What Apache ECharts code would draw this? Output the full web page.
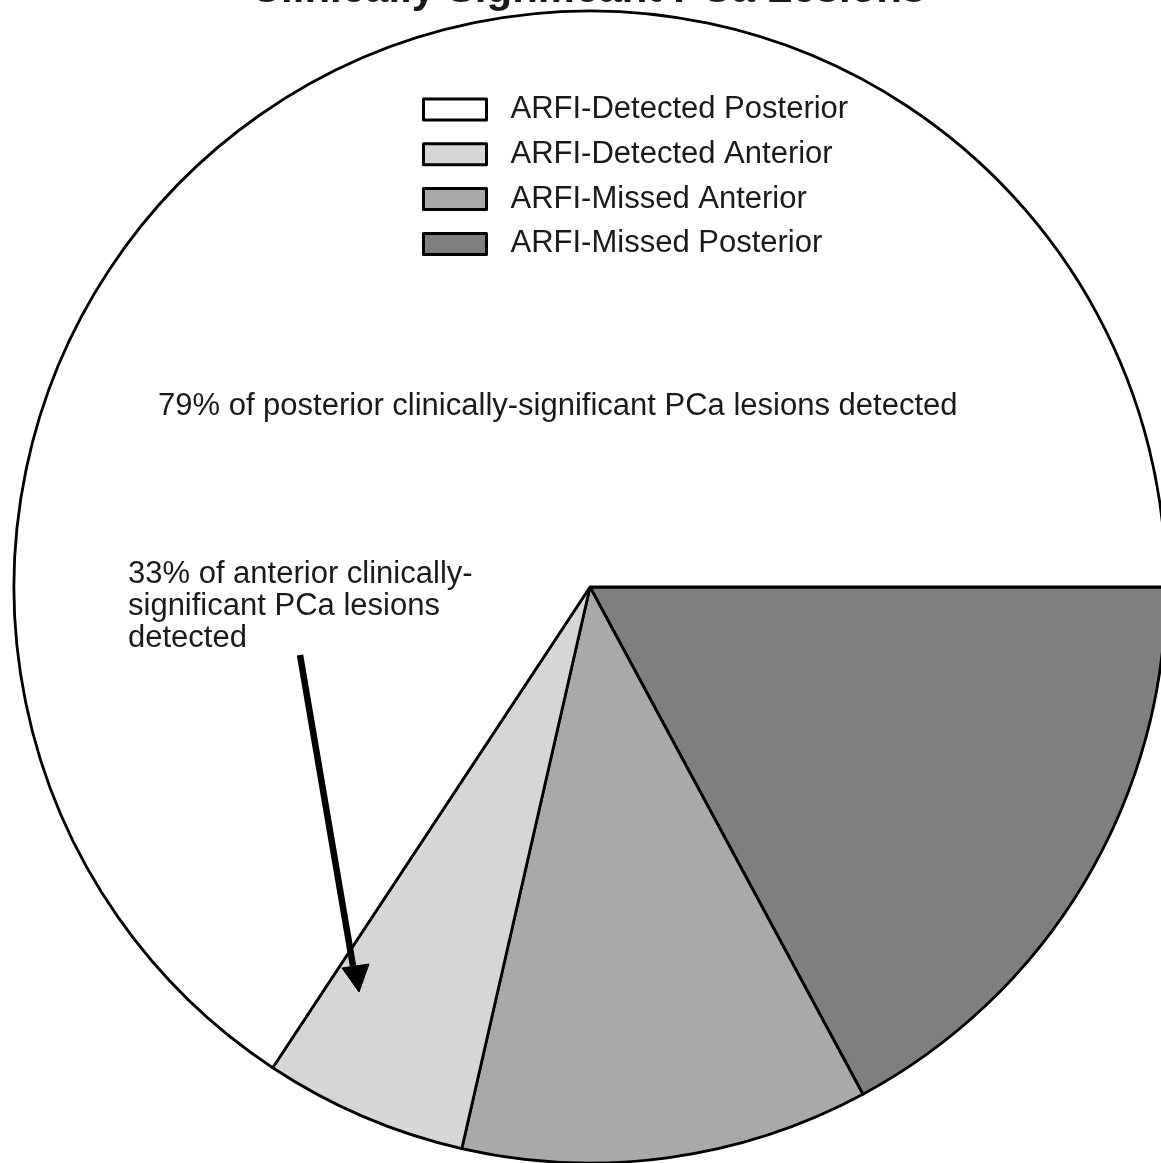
<!DOCTYPE html>
<html>
<head>
<meta charset="utf-8">
<style>
  html, body { margin: 0; padding: 0; background: #fff; }
  #chart { width: 1161px; height: 1163px; }
</style>
<script src="https://cdn.jsdelivr.net/npm/echarts@6/dist/echarts.min.js"></script>
</head>
<body>
<div id="chart"></div>
<script>
// Lesion counts, listed clockwise from 3 o'clock
const sliceNames = ['ARFI-Missed Posterior', 'ARFI-Missed Anterior', 'ARFI-Detected Anterior', 'ARFI-Detected Posterior'];
const sliceCounts = [6, 4, 2, 23];
const sliceColors = ['#7f7f7f', '#a9a9a9', '#d6d6d6', '#ffffff'];
const legendOrder = ['ARFI-Detected Posterior', 'ARFI-Detected Anterior', 'ARFI-Missed Anterior', 'ARFI-Missed Posterior'];

const titleText = 'Clinically Significant PCa Lesions';
const posteriorNote = '79% of posterior clinically-significant PCa lesions detected';
const anteriorNote = ['33% of anterior clinically-', 'significant PCa lesions', 'detected'];

const FONT = '"Liberation Sans", Arial, Helvetica, sans-serif';

const chart = echarts.init(document.getElementById('chart'), null, { renderer: 'canvas' });

const option = {
  backgroundColor: '#ffffff',
  animation: false,
  legend: {
    data: legendOrder,
    orient: 'vertical',
    left: 422,
    top: 94,
    padding: 0,
    itemWidth: 63,
    itemHeight: 21,
    itemGap: 13.8,
    selectedMode: false,
    icon: 'rect',
    itemStyle: { borderColor: '#000', borderWidth: 3 },
    textStyle: {
      fontFamily: FONT,
      fontSize: 31,
      color: '#1a1a1a',
      lineHeight: 30.5,
      padding: [0, 0, 0, 19]
    }
  },
  series: [{
    type: 'pie',
    center: [590, 587],
    radius: 576,
    startAngle: 0,
    clockwise: true,
    silent: true,
    z: 2,
    label: { show: false },
    labelLine: { show: false },
    emphasis: { disabled: true },
    itemStyle: { borderColor: '#000', borderWidth: 2.8 },
    data: sliceNames.map((n, i) => ({
      name: n,
      value: sliceCounts[i],
      itemStyle: { color: sliceColors[i] }
    }))
  }],
  graphic: {
    elements: [
      {
        type: 'text',
        z: 100,
        x: 588,
        y: 11,
        style: {
          text: titleText,
          fontFamily: FONT,
          fontWeight: 'bold',
          fontSize: 42,
          fill: '#1a1a1a',
          textAlign: 'center',
          textVerticalAlign: 'bottom'
        }
      },
      {
        type: 'text',
        z: 100,
        x: 158,
        y: 406,
        style: {
          text: posteriorNote,
          fontFamily: FONT,
          fontSize: 31,
          fill: '#1a1a1a',
          textAlign: 'left',
          textVerticalAlign: 'middle'
        }
      },
      {
        type: 'text',
        z: 100,
        x: 128,
        y: 558,
        style: {
          text: anteriorNote.join('\n'),
          fontFamily: FONT,
          fontSize: 31,
          lineHeight: 32,
          fill: '#1a1a1a',
          textAlign: 'left',
          textVerticalAlign: 'top'
        }
      },
      {
        type: 'line',
        z: 100,
        shape: { x1: 300, y1: 655, x2: 353, y2: 966 },
        style: { stroke: '#000', lineWidth: 6.5 }
      },
      {
        type: 'polygon',
        z: 100,
        shape: { points: [[342, 968], [369, 964], [359, 992]] },
        style: { fill: '#000', stroke: '#000', lineWidth: 1 }
      }
    ]
  }
};

chart.setOption(option);
</script>
</body>
</html>
